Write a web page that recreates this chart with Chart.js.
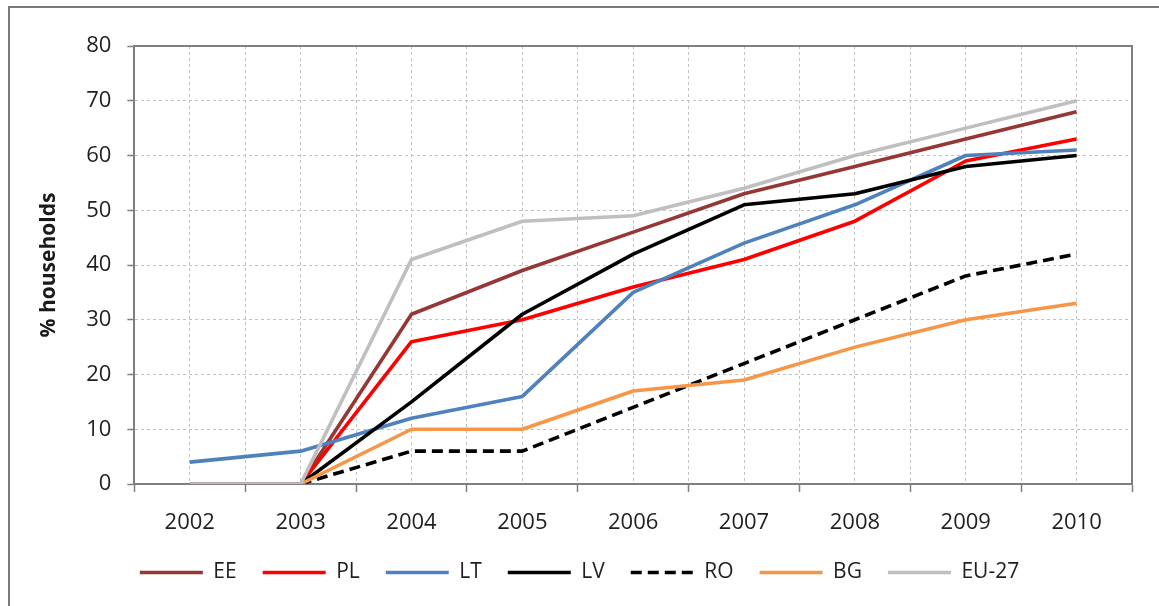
<!DOCTYPE html>
<html>
<head>
<meta charset="utf-8">
<script src="https://cdn.jsdelivr.net/npm/chart.js@4/dist/chart.umd.min.js"></script>
<style>
  html, body { margin: 0; padding: 0; background: #ffffff; }
  #wrap { position: relative; width: 1159px; height: 606px; overflow: hidden; background: #ffffff; }
  #frame { position: absolute; left: 8px; top: 6px; width: 1220px; height: 700px; border: 2px solid #7a7a7a; box-sizing: border-box; }
  #c { position: absolute; left: 0; top: 0; }
</style>
</head>
<body>
<div id="wrap">
  <div id="frame"></div>
  <canvas id="c" width="1159" height="606"></canvas>
</div>
<script>
// Years on the category axis
const years = ['2002', '2003', '2004', '2005', '2006', '2007', '2008', '2009', '2010'];

// Share of households (%) per country
const EE   = [0,    0, 31, 39, 46, 53, 58, 63, 68];
const PL   = [null, 0, 26, 30, 36, 41, 48, 59, 63];
const LT   = [4,    6, 12, 16, 35, 44, 51, 60, 61];
const LV   = [null, 0, 15, 31, 42, 51, 53, 58, 60];
const RO   = [null, 0,  6,  6, 14, 22, 30, 38, 42];
const BG   = [null, 0, 10, 10, 17, 19, 25, 30, 33];
const EU27 = [0,    0, 41, 48, 49, 54, 60, 65, 70];

// Value-axis tick labels
const yTicks = [0, 10, 20, 30, 40, 50, 60, 70, 80];

const FONT = 'Open Sans';
const TEXT = '#1f1f1f';
const GRID = '#c2c2c2';
const AXIS = '#7f7f7f';

function series(label, values, color, order, dash) {
  return {
    label: label,
    data: values,
    borderColor: color,
    backgroundColor: color,
    borderWidth: 3.6,
    borderDash: dash || [],
    borderJoinStyle: 'round',
    pointRadius: 0,
    pointHoverRadius: 0,
    tension: 0,
    spanGaps: false,
    fill: false,
    order: order
  };
}

// Outline of the plot area (top and right edges)
const plotFrame = {
  id: 'plotFrame',
  beforeDatasetsDraw(chart) {
    const a = chart.chartArea, ctx = chart.ctx;
    ctx.save();
    ctx.strokeStyle = AXIS;
    ctx.lineWidth = 2;
    ctx.beginPath();
    ctx.moveTo(a.left, a.top);
    ctx.lineTo(a.right, a.top);
    ctx.lineTo(a.right, a.bottom);
    ctx.stroke();
    ctx.restore();
  }
};

function draw() {
  new Chart(document.getElementById('c'), {
    type: 'line',
    data: {
      labels: years,
      datasets: [
        series('EE', EE, '#953735', 7),
        series('PL', PL, '#ff0000', 6),
        series('LT', LT, '#4f81bd', 5),
        series('LV', LV, '#000000', 4),
        series('RO', RO, '#000000', 3, [11, 6]),
        series('BG', BG, '#f79646', 2),
        series('EU-27', EU27, '#bfbfbf', 1)
      ]
    },
    options: {
      responsive: false,
      animation: false,
      devicePixelRatio: 1,
      layout: { padding: { left: 27, top: 46, right: 27, bottom: 13 } },
      plugins: {
        tooltip: { enabled: false },
        title: { display: false },
        legend: {
          position: 'bottom',
          labels: {
            usePointStyle: true,
            pointStyleWidth: 63,
            boxHeight: 10,
            padding: 26,
            color: TEXT,
            font: { family: FONT, size: 21 },
            generateLabels: chart => chart.data.datasets.map((ds, i) => ({
              text: ds.label,
              strokeStyle: ds.borderColor,
              fillStyle: ds.borderColor,
              lineWidth: ds.borderWidth,
              lineDash: ds.borderDash,
              lineCap: 'butt',
              pointStyle: 'line',
              fontColor: TEXT,
              hidden: false,
              datasetIndex: i
            }))
          }
        }
      },
      scales: {
        x: {
          type: 'category',
          offset: true,
          afterFit: scale => { scale.height = 52; },
          grid: { offset: true, color: GRID, lineWidth: 1, tickLength: 8, tickColor: AXIS, tickWidth: 1.5 },
          border: { color: AXIS, width: 2, dash: [3, 3] },
          ticks: { color: TEXT, font: { family: FONT, size: 22, lineHeight: 1 }, padding: 20, maxRotation: 0 }
        },
        xMid: {
          type: 'category',
          position: 'top',
          offset: true,
          grid: { offset: false, color: GRID, lineWidth: 1, drawTicks: false },
          border: { display: false, dash: [3, 3] },
          ticks: { display: false }
        },
        y: {
          min: 0,
          max: 80,
          afterBuildTicks: scale => { scale.ticks = yTicks.map(v => ({ value: v })); },
          grid: { color: GRID, lineWidth: 1, tickLength: 7, tickColor: AXIS, tickWidth: 1.5 },
          border: { color: AXIS, width: 2, dash: [3, 3] },
          ticks: { color: TEXT, font: { family: FONT, size: 22 }, padding: 16 },
          title: {
            display: true,
            text: '% households',
            color: '#1a1a1a',
            font: { family: FONT, size: 21, weight: 'bold' },
            padding: { top: 9, bottom: 9 }
          }
        }
      }
    },
    plugins: [plotFrame]
  });
}

Promise.all([
  document.fonts.load('22px "Open Sans"'),
  document.fonts.load('bold 21px "Open Sans"')
]).then(draw, draw);
</script>
</body>
</html>
